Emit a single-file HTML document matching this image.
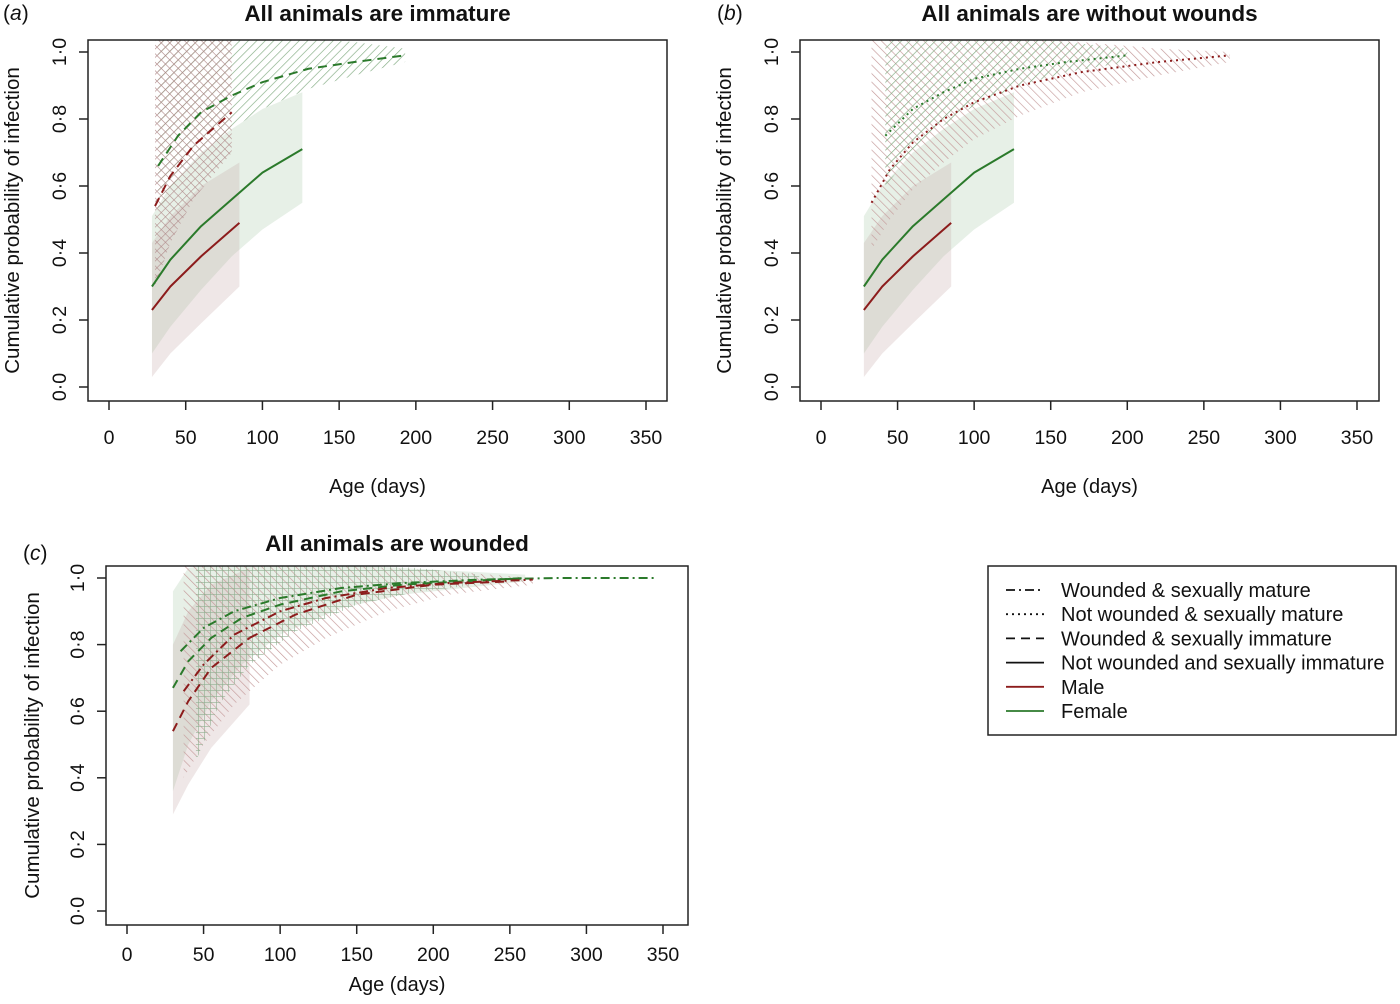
<!DOCTYPE html>
<html><head><meta charset="utf-8">
<style>
html,body{margin:0;padding:0;background:#fff;}
svg text{font-family:"Liberation Sans",Arial,sans-serif;fill:#111;}
</style></head>
<body>
<svg id="fig" width="1400" height="999" viewBox="0 0 1400 999" xmlns="http://www.w3.org/2000/svg">
<defs>
<pattern id="hGreenF" patternUnits="userSpaceOnUse" width="6" height="6" patternTransform="rotate(45)"><line x1="0" y1="0" x2="0" y2="6" stroke="#7fa97f" stroke-width="1.3"/></pattern>
<pattern id="hRedB" patternUnits="userSpaceOnUse" width="6" height="6" patternTransform="rotate(-45)"><line x1="0" y1="0" x2="0" y2="6" stroke="#c49a9a" stroke-width="1.3"/></pattern>
<pattern id="hRedX" patternUnits="userSpaceOnUse" width="6" height="6" patternTransform="rotate(45)"><line x1="0" y1="0" x2="0" y2="6" stroke="#b08a8a" stroke-width="1.2"/><line x1="0" y1="0" x2="6" y2="0" stroke="#b08a8a" stroke-width="1.2"/></pattern>
<pattern id="hGreenG" patternUnits="userSpaceOnUse" width="6" height="6"><line x1="0" y1="0" x2="0" y2="6" stroke="#8fae8f" stroke-width="1.2"/><line x1="0" y1="0" x2="6" y2="0" stroke="#8fae8f" stroke-width="1.2"/></pattern>
</defs>
</svg>
<script>
// ---- data (age in days, cumulative probability) ----
const xTicks=[0,50,100,150,200,250,300,350];
const yTicks=[0,0.2,0.4,0.6,0.8,1.0];
const yTickLabels=["0·0","0·2","0·4","0·6","0·8","1·0"];

// Panel a
const aFsolAge=[28,40,60,80,100,126], aFsolVal=[0.30,0.38,0.48,0.56,0.64,0.71], aFsolLo=[0.10,0.18,0.29,0.39,0.47,0.55], aFsolHi=[0.51,0.60,0.70,0.77,0.83,0.88];
const aMsolAge=[28,40,60,85], aMsolVal=[0.23,0.30,0.39,0.49], aMsolLo=[0.03,0.10,0.19,0.30], aMsolHi=[0.43,0.51,0.60,0.67];
const aFdashAge=[32,45,60,80,100,130,160,193], aFdashVal=[0.66,0.75,0.82,0.87,0.91,0.95,0.97,0.99], aFdashLo=[0.52,0.62,0.70,0.77,0.83,0.89,0.93,0.97], aFdashHi=[1.04,1.04,1.04,1.04,1.04,1.04,1.03,1.01];
const aMdashAge=[30,40,55,80], aMdashVal=[0.54,0.63,0.72,0.82], aMdashLo=[0.30,0.43,0.56,0.70], aMdashHi=[1.04,1.04,1.04,1.04];
// Panel b
const bFdotAge=[42,60,80,100,130,160,200], bFdotVal=[0.75,0.83,0.88,0.92,0.95,0.97,0.99], bFdotLo=[0.60,0.70,0.78,0.84,0.90,0.94,0.97], bFdotHi=[1.04,1.04,1.04,1.04,1.04,1.03,1.01];
const bMdotAge=[33,45,60,80,100,130,170,220,267], bMdotVal=[0.55,0.65,0.73,0.80,0.85,0.90,0.94,0.97,0.99], bMdotLo=[0.41,0.50,0.59,0.67,0.74,0.81,0.88,0.93,0.97], bMdotHi=[1.04,1.04,1.04,1.04,1.04,1.04,1.03,1.01,1.0];
// Panel c
const cFdashAge=[30,40,55,75,100,140,180,220,260], cFdashVal=[0.67,0.75,0.82,0.88,0.92,0.96,0.98,0.99,1.0], cFdashLo=[0.36,0.50,0.63,0.74,0.83,0.91,0.95,0.97,0.99], cFdashHi=[0.96,1.03,1.04,1.04,1.04,1.04,1.03,1.02,1.01];
const cMdashAge=[30,40,55,80], cMdashVal=[0.54,0.63,0.73,0.82], cMdashLo=[0.29,0.38,0.49,0.62], cMdashHi=[0.80,0.90,0.98,1.03];
const cMdashLongAge=[80,110,150,200,250], cMdashLongVal=[0.82,0.89,0.95,0.98,0.99];
const cFddAge=[35,50,70,100,140,180,230,280,345], cFddVal=[0.78,0.85,0.90,0.94,0.97,0.985,0.995,1.0,1.0];
const cFddBandAge=[45,60,80,110,150,190,230], cFddBandLo=[0.45,0.62,0.74,0.84,0.92,0.96,0.98], cFddBandHi=[1.04,1.04,1.04,1.04,1.04,1.03,1.01];
const cMddAge=[37,50,70,100,130,170,210,265], cMddVal=[0.66,0.74,0.83,0.90,0.94,0.97,0.985,0.995], cMddLo=[0.40,0.50,0.62,0.74,0.82,0.90,0.95,0.98], cMddHi=[1.04,1.04,1.04,1.04,1.04,1.03,1.02,1.0];

const svg=document.getElementById('fig');
const NS='http://www.w3.org/2000/svg';
function mk(tag,attrs,parent){const e=document.createElementNS(NS,tag);for(const k in attrs)e.setAttribute(k,attrs[k]);(parent||svg).appendChild(e);return e;}
const GREEN='#2b7a2b', RED='#8c1c1c';
const DASH={solid:'none',dash:'9,6',dot:'2,4',dd:'9,4,2,4'};

function panel(P){
  const g=mk('g',{});
  
  
  const X=v=>P.x0+(v/350)*(P.x350-P.x0);
  const Y=v=>P.y0+v*(P.y1-P.y0);
  const cid='clip'+P.id;
  const cp=mk('clipPath',{id:cid},g); mk('rect',{x:P.bx0,y:P.by0,width:P.bx1-P.bx0,height:P.by1-P.by0},cp);
  const plot=mk('g',{'clip-path':'url(#'+cid+')'},g);
  
  
  P.bands.forEach(b=>{
    let d='M'+b.age.map((a,i)=>X(a)+','+Y(b.hi[i])).join('L');
    for(let i=b.age.length-1;i>=0;i--)d+='L'+X(b.age[i])+','+Y(b.lo[i]);
    const p=mk('path',{d:d+'Z',fill:b.fill,stroke:'none'},plot);
    
    
  });
  P.lines.forEach(l=>{
    const p=mk('polyline',{points:l.age.map((a,i)=>X(a)+','+Y(l.val[i])).join(' '),fill:'none',stroke:l.c,'stroke-width':2,'stroke-dasharray':DASH[l.s],'stroke-linejoin':'round'},plot);
    
    
  });
  const box=mk('rect',{x:P.bx0,y:P.by0,width:P.bx1-P.bx0,height:P.by1-P.by0,fill:'none',stroke:'#222','stroke-width':1.5},g);
  
  
  xTicks.forEach(t=>{
    const tk=mk('line',{x1:X(t),x2:X(t),y1:P.by1,y2:P.by1+9,stroke:'#222','stroke-width':1.5},g);
    
    
    const tx=mk('text',{x:X(t),y:P.by1+P.xlOff,'text-anchor':'middle','font-size':19.5},g);tx.textContent=t;
    
    
  });
  yTicks.forEach((t,i)=>{
    const tk=mk('line',{x1:P.bx0-9,x2:P.bx0,y1:Y(t),y2:Y(t),stroke:'#222','stroke-width':1.5},g);
    
    
    const tx=mk('text',{x:P.bx0-22,y:Y(t),'text-anchor':'middle','font-size':19.5,transform:'rotate(-90 '+(P.bx0-22)+' '+Y(t)+')'},g);tx.textContent=yTickLabels[i];
    
    
  });
  const yl=mk('text',{x:P.ylx,y:(P.by0+P.by1)/2,'text-anchor':'middle','font-size':20.5,transform:'rotate(-90 '+P.ylx+' '+(P.by0+P.by1)/2+')'},g);yl.textContent='Cumulative probability of infection';
  
  
  const xl=mk('text',{x:(P.bx0+P.bx1)/2,y:P.xly,'text-anchor':'middle','font-size':20},g);xl.textContent='Age (days)';
  
  
  const tt=mk('text',{x:(P.bx0+P.bx1)/2,y:P.ty,'text-anchor':'middle','font-size':22.5,'font-weight':'bold'},g);tt.textContent=P.title;
  
  
  const pl=mk('text',{x:P.plx,y:P.ply,'font-size':21},g);pl.innerHTML='(<tspan font-style="italic">'+P.id+'</tspan>)';
  
  
}

const GFILL='rgba(160,195,160,0.25)', PFILL='rgba(190,160,160,0.25)';
panel({id:'a',name:'panel-a',title:'All animals are immature',bx0:88,bx1:667,by0:40,by1:401,x0:109,x350:646,y0:387,y1:52,xlOff:43,ylx:19,xly:493,plx:3,ply:20,ty:21,
 bands:[{age:aFsolAge,lo:aFsolLo,hi:aFsolHi,fill:GFILL,n:'band-female-solid'},{age:aMsolAge,lo:aMsolLo,hi:aMsolHi,fill:PFILL,n:'band-male-solid'},
  {age:aFdashAge,lo:aFdashLo,hi:aFdashHi,fill:'url(#hGreenF)',n:'band-female-dashed'},{age:aMdashAge,lo:aMdashLo,hi:aMdashHi,fill:'url(#hRedX)',n:'band-male-dashed'}],
 lines:[{age:aFsolAge,val:aFsolVal,c:GREEN,s:'solid',n:'line-female-solid'},{age:aMsolAge,val:aMsolVal,c:RED,s:'solid',n:'line-male-solid'},
  {age:aFdashAge,val:aFdashVal,c:GREEN,s:'dash',n:'line-female-dashed'},{age:aMdashAge,val:aMdashVal,c:RED,s:'dash',n:'line-male-dashed'}]});
panel({id:'b',name:'panel-b',title:'All animals are without wounds',bx0:800,bx1:1379,by0:40,by1:401,x0:821,x350:1357,y0:387,y1:52,xlOff:43,ylx:731,xly:493,plx:717,ply:20,ty:21,
 bands:[{age:aFsolAge,lo:aFsolLo,hi:aFsolHi,fill:GFILL,n:'band-female-solid'},{age:aMsolAge,lo:aMsolLo,hi:aMsolHi,fill:PFILL,n:'band-male-solid'},
  {age:bMdotAge,lo:bMdotLo,hi:bMdotHi,fill:'url(#hRedB)',n:'band-male-dotted'},{age:bFdotAge,lo:bFdotLo,hi:bFdotHi,fill:'url(#hGreenF)',n:'band-female-dotted'}],
 lines:[{age:aFsolAge,val:aFsolVal,c:GREEN,s:'solid',n:'line-female-solid'},{age:aMsolAge,val:aMsolVal,c:RED,s:'solid',n:'line-male-solid'},
  {age:bFdotAge,val:bFdotVal,c:GREEN,s:'dot',n:'line-female-dotted'},{age:bMdotAge,val:bMdotVal,c:RED,s:'dot',n:'line-male-dotted'}]});
panel({id:'c',name:'panel-c',title:'All animals are wounded',bx0:106,bx1:688,by0:566,by1:925,x0:127,x350:663,y0:911,y1:578,xlOff:36,ylx:39,xly:991,plx:23,ply:560,ty:551,
 bands:[{age:cFdashAge,lo:cFdashLo,hi:cFdashHi,fill:GFILL,n:'band-female-dashed'},{age:cMdashAge,lo:cMdashLo,hi:cMdashHi,fill:PFILL,n:'band-male-dashed'},
  {age:cMddAge,lo:cMddLo,hi:cMddHi,fill:'url(#hRedB)',n:'band-male-dotdash'},{age:cFddBandAge,lo:cFddBandLo,hi:cFddBandHi,fill:'url(#hGreenG)',n:'band-female-dotdash'}],
 lines:[{age:cFdashAge,val:cFdashVal,c:GREEN,s:'dash',n:'line-female-dashed'},{age:cMdashAge,val:cMdashVal,c:RED,s:'dash',n:'line-male-dashed'},
  {age:cMdashLongAge,val:cMdashLongVal,c:RED,s:'dash',n:'line-male-dashed-tail'},
  {age:cFddAge,val:cFddVal,c:GREEN,s:'dd',n:'line-female-dotdash'},{age:cMddAge,val:cMddVal,c:RED,s:'dd',n:'line-male-dotdash'}]});

// legend
const legendLabels=['Wounded & sexually mature','Not wounded & sexually mature','Wounded & sexually immature','Not wounded and sexually immature','Male','Female'];
const legendStyles=['dd','dot','dash','solid','solid','solid'];
const legendColors=['#111','#111','#111','#111',RED,GREEN];
const lg=mk('g',{});


const lb=mk('rect',{x:988,y:566,width:408,height:169,fill:'#fff',stroke:'#222','stroke-width':1.5},lg);


legendLabels.forEach((t,i)=>{
  const y=590+i*24.2;
  const ln=mk('line',{x1:1006,x2:1044,y1:y,y2:y,stroke:legendColors[i],'stroke-width':1.8,'stroke-dasharray':DASH[legendStyles[i]]},lg);
  
  
  const tx=mk('text',{x:1061,y:y+7,'font-size':20},lg);tx.textContent=t;
  
  
});
</script>
</body></html>
